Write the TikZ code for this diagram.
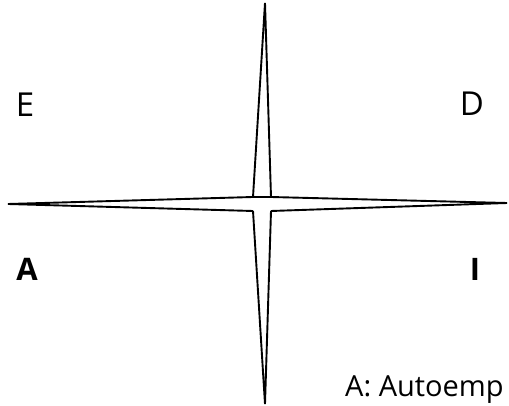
\documentclass[tikz,border=0pt]{standalone}
\usepackage{fontspec}
\setmainfont{Open Sans}
\usepackage{tikz}
\usetikzlibrary{positioning, calc}

\begin{document}
\begin{tikzpicture}[
  x=1pt, y=-1pt,
  spike/.style={draw, line width=1.9pt, line join=miter},
  corner/.style={font=\fontsize{33}{36}\selectfont},
  cornerbold/.style={font=\fontsize{31}{34}\selectfont\bfseries},
  legend/.style={font=\fontsize{29}{32}\selectfont, anchor=base west, inner sep=0pt},
]
\useasboundingbox (0,0) rectangle (509,406);

% Corners of the central square
\coordinate (nw) at (253,197);
\coordinate (ne) at (271,197);
\coordinate (sw) at (253,211);
\coordinate (se) at (271,211);

% Tips of the four spikes
\coordinate (tN) at (265,3);
\coordinate (tS) at (265,404);
\coordinate (tW) at (8,204);
\coordinate (tE) at (507,203);

% Spikes
\draw[spike] (nw) -- (tN) -- (ne) -- cycle;
\draw[spike] (sw) -- (tS) -- (se);
\draw[spike] (nw) -- (tW) -- (sw);
\draw[spike] (ne) -- (tE) -- (se);

% Quadrant labels
\node[corner] (lE) at (25,105) {E};
\node[corner] (lD) at (472,104) {D};
\node[cornerbold] (lA) at (27,269) {A};
\node[cornerbold] (lI) at (475,269) {I};

% Legend (cut off at the right edge)
\node[legend] (key) at (345,396) {A: Autoemp};
\end{tikzpicture}
\end{document}
